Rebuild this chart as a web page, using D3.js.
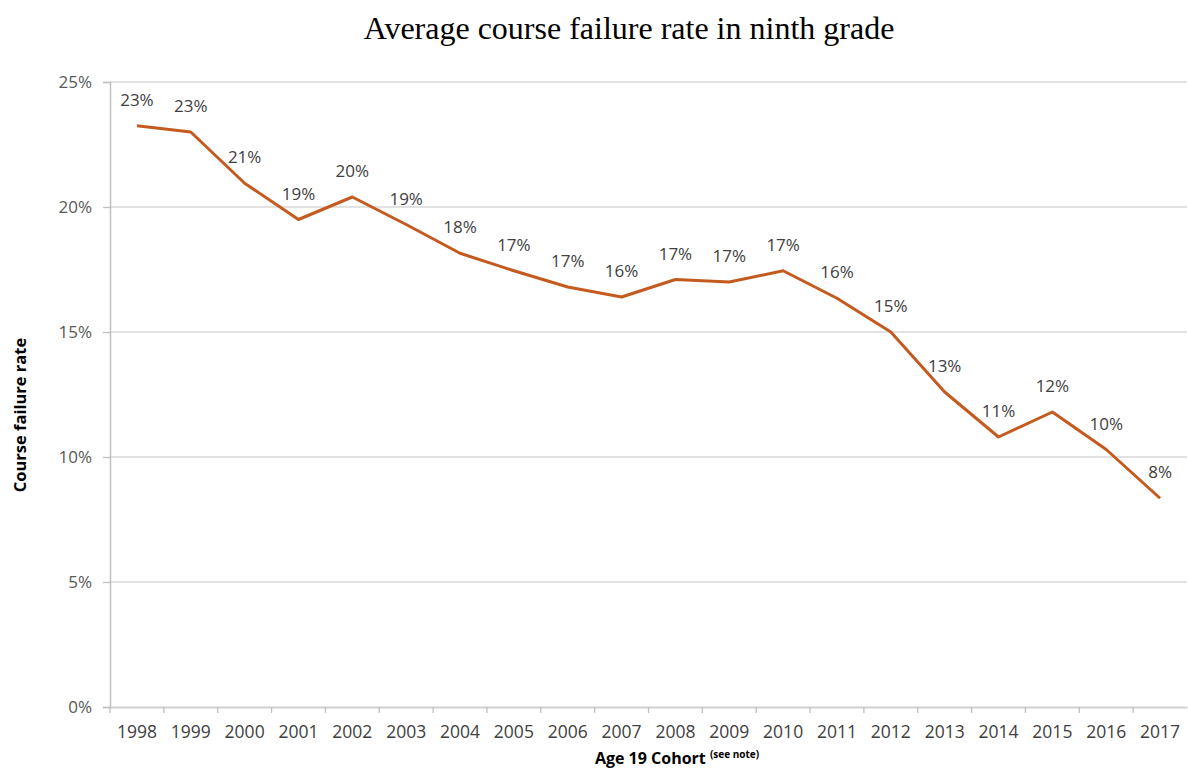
<!DOCTYPE html>
<html><head><meta charset="utf-8">
<script src="https://cdn.jsdelivr.net/npm/d3@7"></script>
<style>body{margin:0;background:#fff}</style>
</head><body>
<svg id="c" width="1188" height="771"></svg>
<script>
const years = ["1998","1999","2000","2001","2002","2003","2004","2005","2006","2007","2008","2009","2010","2011","2012","2013","2014","2015","2016","2017"];
const rates = [23.25,23.0,20.95,19.5,20.4,19.3,18.15,17.45,16.8,16.4,17.1,17.0,17.45,16.35,15.0,12.6,10.8,11.8,10.3,8.35];
const labels = ["23%","23%","21%","19%","20%","19%","18%","17%","17%","16%","17%","17%","17%","16%","15%","13%","11%","12%","10%","8%"];
const yTicks = [0,5,10,15,20,25];

const svg = d3.select("#c");
const L=110, R=1187, T=82, B=707;
const font = "'Open Sans', Carlito, Lato, sans-serif";
const x = d3.scaleBand().domain(years).range([L,R]);
const y = d3.scaleLinear().domain([0,25]).range([B,T]);

svg.append("text").attr("x",629).attr("y",39).attr("text-anchor","middle")
  .attr("font-family","'Liberation Serif', 'Times New Roman', serif").attr("font-size",32).attr("fill","#000")
  .text("Average course failure rate in ninth grade");

// grid
svg.append("g").selectAll("line").data(yTicks.filter(d=>d>0)).join("line")
  .attr("x1",L).attr("x2",R).attr("y1",d=>y(d)).attr("y2",d=>y(d))
  .attr("stroke","#d9d9d9").attr("stroke-width",1.3);

// y axis
const ya = svg.append("g").attr("transform",`translate(${L},0)`)
  .call(d3.axisLeft(y).tickValues(yTicks).tickFormat(d=>d+"%").tickSize(7).tickPadding(11));
ya.select(".domain").attr("stroke","#bfbfbf").attr("stroke-width",1.5);
ya.selectAll(".tick line").attr("stroke","#bfbfbf").attr("stroke-width",1.3);
ya.selectAll("text").attr("font-family",font).attr("font-size",17).attr("fill","#595959");

// x axis
const xa = svg.append("g").attr("transform",`translate(0,${B})`)
  .call(d3.axisBottom(x).tickSize(0).tickPadding(19));
xa.select(".domain").attr("stroke","#d0d0d0").attr("stroke-width",2);
xa.selectAll("text").attr("font-family",font).attr("font-size",17.5).attr("fill","#404040");
// boundary ticks
xa.append("g").selectAll("line").data(years).join("line")
  .attr("x1",d=>x(d)).attr("x2",d=>x(d)).attr("y1",0).attr("y2",6)
  .attr("stroke","#bfbfbf").attr("stroke-width",1.3);

// line
const cx = d=>x(d)+x.bandwidth()/2;
svg.append("path").datum(years.map((d,i)=>[cx(d),y(rates[i])]))
  .attr("d",d3.line()).attr("fill","none").attr("stroke","#c55a1e").attr("stroke-width",3)
  .attr("stroke-linejoin","round");

// labels
svg.append("g").selectAll("text").data(years).join("text")
  .attr("x",d=>cx(d)).attr("y",(d,i)=>y(rates[i])-20).attr("text-anchor","middle")
  .attr("font-family",font).attr("font-size",17).attr("fill","#404040")
  .text((d,i)=>labels[i]);

// axis titles
svg.append("text").attr("transform","translate(26,415) rotate(-90)").attr("text-anchor","middle")
  .attr("font-family",font).attr("font-size",16.5).attr("font-weight","bold").attr("fill","#000")
  .text("Course failure rate");
const xt = svg.append("text").attr("x",677).attr("y",764).attr("text-anchor","middle")
  .attr("font-family",font).attr("font-size",16).attr("font-weight","bold").attr("fill","#000");
xt.append("tspan").text("Age 19 Cohort ");
xt.append("tspan").attr("font-size",10).attr("dy",-6).text("(see note)");
</script>
</body></html>
